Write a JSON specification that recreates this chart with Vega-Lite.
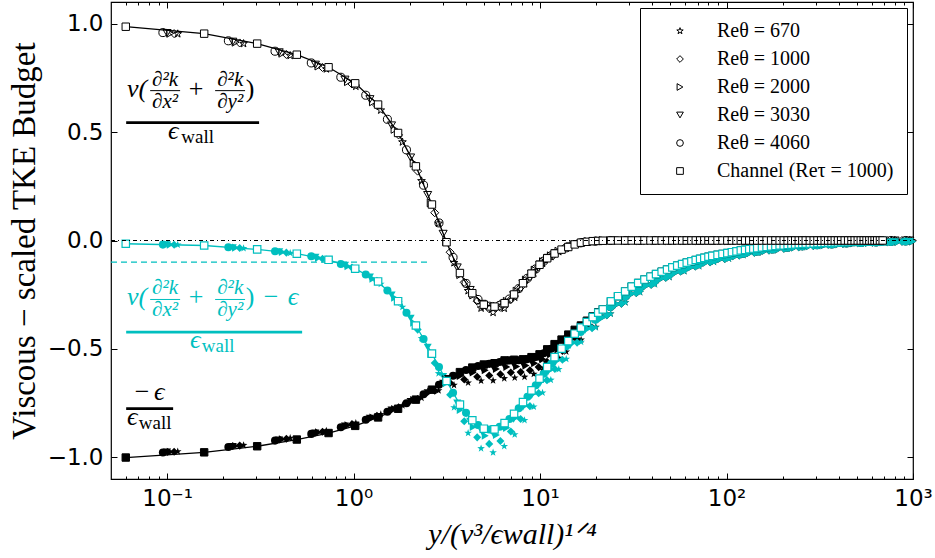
{
"$schema": "https://vega.github.io/schema/vega-lite/v6.json",
"width": 802, "height": 477,
"autosize": {"type": "none"},
"padding": {"left": 111, "top": 2, "right": 22, "bottom": 79},
"background": "white",
"config": {
  "view": {"stroke": "black", "strokeWidth": 1.2},
  "axis": {"grid": false, "domain": false, "tickColor": "black", "tickWidth": 1, "labelColor": "black", "titleColor": "black", "labelFont": "DejaVu Sans", "labelFontSize": 23, "titleFont": "Liberation Serif", "titleFontWeight": "normal"}
},
"datasets": {
"ch": [
{"x":0.06,"v":0.986,"d":-0.015,"e":-1.001},{"x":0.158,"v":0.954,"d":-0.023,"e":-0.977},{"x":0.304,"v":0.908,"d":-0.041,"e":-0.949},{"x":0.496,"v":0.857,"d":-0.061,"e":-0.918},{"x":0.734,"v":0.799,"d":-0.089,"e":-0.888},{"x":1.02,"v":0.725,"d":-0.13,"e":-0.855},{"x":1.353,"v":0.627,"d":-0.189,"e":-0.816},{"x":1.732,"v":0.496,"d":-0.28,"e":-0.776},{"x":2.158,"v":0.342,"d":-0.392,"e":-0.734},{"x":2.631,"v":0.166,"d":-0.522,"e":-0.688},{"x":3.151,"v":-0.008,"d":-0.648,"e":-0.64},{"x":3.717,"v":-0.15,"d":-0.757,"e":-0.607},{"x":4.331,"v":-0.243,"d":-0.829,"e":-0.586},{"x":4.991,"v":-0.296,"d":-0.868,"e":-0.572},{"x":5.698,"v":-0.305,"d":-0.871,"e":-0.566},{"x":6.452,"v":-0.289,"d":-0.842,"e":-0.553},{"x":7.252,"v":-0.249,"d":-0.799,"e":-0.55},{"x":8.1,"v":-0.197,"d":-0.745,"e":-0.548},{"x":8.994,"v":-0.153,"d":-0.691,"e":-0.538},{"x":9.935,"v":-0.112,"d":-0.637,"e":-0.525},{"x":10.92,"v":-0.082,"d":-0.584,"e":-0.502},{"x":11.96,"v":-0.06,"d":-0.538,"e":-0.478},{"x":13.04,"v":-0.042,"d":-0.499,"e":-0.457},{"x":14.17,"v":-0.03,"d":-0.464,"e":-0.434},{"x":15.34,"v":-0.018,"d":-0.43,"e":-0.412},{"x":16.56,"v":-0.01,"d":-0.402,"e":-0.392},{"x":17.83,"v":-0.006,"d":-0.376,"e":-0.37},{"x":19.15,"v":-0.003,"d":-0.353,"e":-0.35},{"x":20.51,"v":-0.002,"d":-0.333,"e":-0.331},{"x":21.7,"v":-0.001,"d":-0.318,"e":-0.317},
{"x":24.0,"v":0,"d":-0.281,"e":-0.281},{"x":26.2,"v":0,"d":-0.257,"e":-0.257},{"x":28.6,"v":0,"d":-0.235,"e":-0.235},{"x":31.0,"v":0,"d":-0.213,"e":-0.213},{"x":33.6,"v":0,"d":-0.196,"e":-0.196},{"x":36.3,"v":0,"d":-0.18,"e":-0.18},{"x":39.1,"v":0,"d":-0.167,"e":-0.167},{"x":41.9,"v":0,"d":-0.155,"e":-0.155},{"x":44.9,"v":0,"d":-0.144,"e":-0.144},{"x":48.0,"v":0,"d":-0.134,"e":-0.134},{"x":51.2,"v":0,"d":-0.124,"e":-0.124},{"x":54.4,"v":0,"d":-0.116,"e":-0.116},{"x":57.8,"v":0,"d":-0.109,"e":-0.109},{"x":61.2,"v":0,"d":-0.102,"e":-0.102},{"x":64.8,"v":0,"d":-0.096,"e":-0.096},{"x":68.4,"v":0,"d":-0.09,"e":-0.09},{"x":72.2,"v":0,"d":-0.085,"e":-0.085},{"x":76.0,"v":0,"d":-0.08,"e":-0.08},{"x":80.0,"v":0,"d":-0.075,"e":-0.075},{"x":83.9,"v":0,"d":-0.071,"e":-0.071},{"x":89.5,"v":0,"d":-0.066,"e":-0.066},{"x":95.1,"v":0,"d":-0.062,"e":-0.062},{"x":101,"v":0,"d":-0.058,"e":-0.058},{"x":106.9,"v":0,"d":-0.054,"e":-0.054},{"x":113.1,"v":0,"d":-0.05,"e":-0.05},{"x":119.3,"v":0,"d":-0.046,"e":-0.046},{"x":125.8,"v":0,"d":-0.043,"e":-0.043},{"x":132.4,"v":0,"d":-0.04,"e":-0.04},{"x":139.2,"v":0,"d":-0.037,"e":-0.037},{"x":146.1,"v":0,"d":-0.035,"e":-0.035},{"x":155,"v":0,"d":-0.032,"e":-0.032},{"x":164,"v":0,"d":-0.03,"e":-0.03},{"x":173.4,"v":0,"d":-0.027,"e":-0.027},{"x":182.9,"v":0,"d":-0.025,"e":-0.025},{"x":192.7,"v":0,"d":-0.023,"e":-0.023},{"x":202.6,"v":0,"d":-0.022,"e":-0.022},{"x":212.7,"v":0,"d":-0.02,"e":-0.02},{"x":222.9,"v":0,"d":-0.019,"e":-0.019},{"x":233.5,"v":0,"d":-0.018,"e":-0.018},{"x":244.1,"v":0,"d":-0.017,"e":-0.017},{"x":255,"v":0,"d":-0.016,"e":-0.016},{"x":266,"v":0,"d":-0.015,"e":-0.015},{"x":279.7,"v":0,"d":-0.014,"e":-0.014},{"x":293.4,"v":0,"d":-0.013,"e":-0.013},{"x":307.5,"v":0,"d":-0.012,"e":-0.012},{"x":321.6,"v":0,"d":-0.012,"e":-0.012},{"x":336.1,"v":0,"d":-0.011,"e":-0.011},{"x":350.7,"v":0,"d":-0.01,"e":-0.01},{"x":365.6,"v":0,"d":-0.01,"e":-0.01},{"x":380.6,"v":0,"d":-0.009,"e":-0.009},{"x":396.1,"v":0,"d":-0.009,"e":-0.009},{"x":411.7,"v":0,"d":-0.008,"e":-0.008},{"x":430.3,"v":0,"d":-0.008,"e":-0.008},{"x":448.9,"v":0,"d":-0.007,"e":-0.007},{"x":467.7,"v":0,"d":-0.007,"e":-0.007},{"x":486.6,"v":0,"d":-0.006,"e":-0.006},{"x":505.7,"v":0,"d":-0.006,"e":-0.006},{"x":524.8,"v":0,"d":-0.005,"e":-0.005},{"x":544.3,"v":0,"d":-0.005,"e":-0.005},{"x":563.7,"v":0,"d":-0.005,"e":-0.005},{"x":583.3,"v":0,"d":-0.004,"e":-0.004},{"x":602.8,"v":0,"d":-0.004,"e":-0.004},{"x":622.6,"v":0,"d":-0.004,"e":-0.004},{"x":642.4,"v":0,"d":-0.004,"e":-0.004},{"x":665,"v":0,"d":-0.003,"e":-0.003},{"x":687.7,"v":0,"d":-0.003,"e":-0.003}
],
"bl": [
{"s":"670","x":0.114,"v":0.953,"d":-0.02,"e":-0.973},{"s":"670","x":0.257,"v":0.908,"d":-0.036,"e":-0.944},{"s":"670","x":0.457,"v":0.853,"d":-0.058,"e":-0.911},{"s":"670","x":0.714,"v":0.791,"d":-0.087,"e":-0.878},{"s":"670","x":1.028,"v":0.711,"d":-0.131,"e":-0.842},{"s":"670","x":1.399,"v":0.601,"d":-0.201,"e":-0.802},{"s":"670","x":1.828,"v":0.454,"d":-0.307,"e":-0.761},{"s":"670","x":2.313,"v":0.275,"d":-0.451,"e":-0.726},{"s":"670","x":2.856,"v":0.079,"d":-0.613,"e":-0.692},{"s":"670","x":3.456,"v":-0.103,"d":-0.77,"e":-0.667},{"s":"670","x":4.113,"v":-0.232,"d":-0.888,"e":-0.656},{"s":"670","x":4.827,"v":-0.312,"d":-0.959,"e":-0.647},{"s":"670","x":5.598,"v":-0.332,"d":-0.978,"e":-0.646},{"s":"670","x":6.426,"v":-0.313,"d":-0.949,"e":-0.636},{"s":"670","x":7.312,"v":-0.262,"d":-0.895,"e":-0.633},{"s":"670","x":8.254,"v":-0.2,"d":-0.829,"e":-0.629},{"s":"670","x":9.254,"v":-0.151,"d":-0.767,"e":-0.616},{"s":"670","x":10.31,"v":-0.106,"d":-0.702,"e":-0.596},{"s":"670","x":11.42,"v":-0.075,"d":-0.643,"e":-0.568},{"s":"670","x":12.6,"v":-0.052,"d":-0.594,"e":-0.542},{"s":"670","x":13.82,"v":-0.034,"d":-0.547,"e":-0.513},{"s":"670","x":16.6,"v":-0.01,"d":-0.468,"e":-0.458},{"s":"670","x":19.9,"v":-0.002,"d":-0.401,"e":-0.399},{"s":"670","x":23.9,"v":0,"d":-0.338,"e":-0.338},{"s":"670","x":28.7,"v":0,"d":-0.286,"e":-0.286},{"s":"670","x":34.4,"v":0,"d":-0.239,"e":-0.239},{"s":"670","x":41.3,"v":0,"d":-0.202,"e":-0.202},{"s":"670","x":49.5,"v":0,"d":-0.169,"e":-0.169},{"s":"670","x":59.4,"v":0,"d":-0.142,"e":-0.142},{"s":"670","x":71.3,"v":0,"d":-0.119,"e":-0.119},{"s":"670","x":85.6,"v":0,"d":-0.099,"e":-0.099},{"s":"670","x":103,"v":0,"d":-0.084,"e":-0.084},{"s":"670","x":123,"v":0,"d":-0.068,"e":-0.068},{"s":"670","x":148,"v":0,"d":-0.057,"e":-0.057},{"s":"670","x":178,"v":0,"d":-0.046,"e":-0.046},{"s":"670","x":213,"v":0,"d":-0.037,"e":-0.037},{"s":"670","x":256,"v":0,"d":-0.031,"e":-0.031},{"s":"670","x":307,"v":0,"d":-0.025,"e":-0.025},{"s":"670","x":368,"v":0,"d":-0.021,"e":-0.021},{"s":"670","x":442,"v":0,"d":-0.016,"e":-0.016},{"s":"670","x":530,"v":0,"d":-0.013,"e":-0.013},{"s":"670","x":636,"v":0,"d":-0.01,"e":-0.01},{"s":"670","x":764,"v":0,"d":-0.008,"e":-0.008},{"s":"670","x":916,"v":0,"d":-0.006,"e":-0.006},
{"s":"1000","x":0.109,"v":0.954,"d":-0.02,"e":-0.974},{"s":"1000","x":0.245,"v":0.911,"d":-0.035,"e":-0.946},{"s":"1000","x":0.436,"v":0.858,"d":-0.056,"e":-0.914},{"s":"1000","x":0.681,"v":0.798,"d":-0.084,"e":-0.882},{"s":"1000","x":0.98,"v":0.722,"d":-0.125,"e":-0.847},{"s":"1000","x":1.334,"v":0.623,"d":-0.186,"e":-0.809},{"s":"1000","x":1.742,"v":0.487,"d":-0.282,"e":-0.769},{"s":"1000","x":2.205,"v":0.32,"d":-0.411,"e":-0.731},{"s":"1000","x":2.723,"v":0.128,"d":-0.565,"e":-0.693},{"s":"1000","x":3.294,"v":-0.054,"d":-0.711,"e":-0.657},{"s":"1000","x":3.92,"v":-0.193,"d":-0.834,"e":-0.641},{"s":"1000","x":4.601,"v":-0.28,"d":-0.908,"e":-0.628},{"s":"1000","x":5.336,"v":-0.315,"d":-0.938,"e":-0.623},{"s":"1000","x":6.126,"v":-0.308,"d":-0.925,"e":-0.617},{"s":"1000","x":6.97,"v":-0.272,"d":-0.881,"e":-0.609},{"s":"1000","x":7.868,"v":-0.216,"d":-0.823,"e":-0.607},{"s":"1000","x":8.821,"v":-0.166,"d":-0.764,"e":-0.598},{"s":"1000","x":9.828,"v":-0.12,"d":-0.704,"e":-0.584},{"s":"1000","x":10.89,"v":-0.085,"d":-0.644,"e":-0.559},{"s":"1000","x":12.01,"v":-0.06,"d":-0.593,"e":-0.533},{"s":"1000","x":13.18,"v":-0.041,"d":-0.55,"e":-0.509},{"s":"1000","x":15.8,"v":-0.015,"d":-0.471,"e":-0.456},{"s":"1000","x":19.0,"v":-0.003,"d":-0.404,"e":-0.401},{"s":"1000","x":22.8,"v":0,"d":-0.345,"e":-0.345},{"s":"1000","x":27.3,"v":0,"d":-0.291,"e":-0.291},{"s":"1000","x":32.8,"v":0,"d":-0.242,"e":-0.242},{"s":"1000","x":39.4,"v":0,"d":-0.204,"e":-0.204},{"s":"1000","x":47.2,"v":0,"d":-0.172,"e":-0.172},{"s":"1000","x":56.7,"v":0,"d":-0.143,"e":-0.143},{"s":"1000","x":68.0,"v":0,"d":-0.12,"e":-0.12},{"s":"1000","x":81.6,"v":0,"d":-0.1,"e":-0.1},{"s":"1000","x":97.9,"v":0,"d":-0.085,"e":-0.085},{"s":"1000","x":117,"v":0,"d":-0.069,"e":-0.069},{"s":"1000","x":141,"v":0,"d":-0.056,"e":-0.056},{"s":"1000","x":169,"v":0,"d":-0.046,"e":-0.046},{"s":"1000","x":203,"v":0,"d":-0.038,"e":-0.038},{"s":"1000","x":244,"v":0,"d":-0.031,"e":-0.031},{"s":"1000","x":292,"v":0,"d":-0.025,"e":-0.025},{"s":"1000","x":351,"v":0,"d":-0.02,"e":-0.02},{"s":"1000","x":421,"v":0,"d":-0.016,"e":-0.016},{"s":"1000","x":505,"v":0,"d":-0.013,"e":-0.013},{"s":"1000","x":606,"v":0,"d":-0.01,"e":-0.01},{"s":"1000","x":727,"v":0,"d":-0.008,"e":-0.008},{"s":"1000","x":873,"v":0,"d":-0.006,"e":-0.006},
{"s":"2000","x":0.104,"v":0.956,"d":-0.019,"e":-0.975},{"s":"2000","x":0.233,"v":0.915,"d":-0.033,"e":-0.948},{"s":"2000","x":0.415,"v":0.864,"d":-0.053,"e":-0.917},{"s":"2000","x":0.648,"v":0.805,"d":-0.08,"e":-0.885},{"s":"2000","x":0.933,"v":0.733,"d":-0.119,"e":-0.852},{"s":"2000","x":1.27,"v":0.64,"d":-0.176,"e":-0.816},{"s":"2000","x":1.659,"v":0.513,"d":-0.264,"e":-0.777},{"s":"2000","x":2.1,"v":0.357,"d":-0.379,"e":-0.736},{"s":"2000","x":2.592,"v":0.174,"d":-0.523,"e":-0.697},{"s":"2000","x":3.136,"v":-0.005,"d":-0.658,"e":-0.653},{"s":"2000","x":3.733,"v":-0.157,"d":-0.782,"e":-0.625},{"s":"2000","x":4.381,"v":-0.251,"d":-0.86,"e":-0.609},{"s":"2000","x":5.081,"v":-0.302,"d":-0.9,"e":-0.598},{"s":"2000","x":5.832,"v":-0.304,"d":-0.897,"e":-0.593},{"s":"2000","x":6.636,"v":-0.281,"d":-0.864,"e":-0.583},{"s":"2000","x":7.491,"v":-0.234,"d":-0.815,"e":-0.581},{"s":"2000","x":8.398,"v":-0.183,"d":-0.76,"e":-0.577},{"s":"2000","x":9.357,"v":-0.137,"d":-0.703,"e":-0.566},{"s":"2000","x":10.37,"v":-0.098,"d":-0.646,"e":-0.548},{"s":"2000","x":11.43,"v":-0.071,"d":-0.596,"e":-0.525},{"s":"2000","x":12.55,"v":-0.05,"d":-0.551,"e":-0.501},{"s":"2000","x":15.1,"v":-0.02,"d":-0.472,"e":-0.452},{"s":"2000","x":18.1,"v":-0.005,"d":-0.407,"e":-0.402},{"s":"2000","x":21.7,"v":-0.001,"d":-0.355,"e":-0.354},{"s":"2000","x":26.0,"v":0,"d":-0.294,"e":-0.294},{"s":"2000","x":31.2,"v":0,"d":-0.246,"e":-0.246},{"s":"2000","x":37.5,"v":0,"d":-0.207,"e":-0.207},{"s":"2000","x":45.0,"v":0,"d":-0.175,"e":-0.175},{"s":"2000","x":54.0,"v":0,"d":-0.146,"e":-0.146},{"s":"2000","x":64.8,"v":0,"d":-0.123,"e":-0.123},{"s":"2000","x":77.7,"v":0,"d":-0.102,"e":-0.102},{"s":"2000","x":93.3,"v":0,"d":-0.085,"e":-0.085},{"s":"2000","x":112,"v":0,"d":-0.072,"e":-0.072},{"s":"2000","x":134,"v":0,"d":-0.058,"e":-0.058},{"s":"2000","x":161,"v":0,"d":-0.048,"e":-0.048},{"s":"2000","x":193,"v":0,"d":-0.038,"e":-0.038},{"s":"2000","x":232,"v":0,"d":-0.032,"e":-0.032},{"s":"2000","x":278,"v":0,"d":-0.026,"e":-0.026},{"s":"2000","x":334,"v":0,"d":-0.022,"e":-0.022},{"s":"2000","x":401,"v":0,"d":-0.017,"e":-0.017},{"s":"2000","x":481,"v":0,"d":-0.013,"e":-0.013},{"s":"2000","x":577,"v":0,"d":-0.011,"e":-0.011},{"s":"2000","x":693,"v":0,"d":-0.008,"e":-0.008},{"s":"2000","x":831,"v":0,"d":-0.007,"e":-0.007},{"s":"2000","x":998,"v":0,"d":-0.005,"e":-0.005},
{"s":"3030","x":0.0999,"v":0.957,"d":-0.019,"e":-0.976},{"s":"3030","x":0.225,"v":0.917,"d":-0.033,"e":-0.95},{"s":"3030","x":0.399,"v":0.868,"d":-0.052,"e":-0.92},{"s":"3030","x":0.624,"v":0.811,"d":-0.077,"e":-0.888},{"s":"3030","x":0.899,"v":0.742,"d":-0.114,"e":-0.856},{"s":"3030","x":1.223,"v":0.652,"d":-0.168,"e":-0.82},{"s":"3030","x":1.598,"v":0.531,"d":-0.251,"e":-0.782},{"s":"3030","x":2.022,"v":0.383,"d":-0.359,"e":-0.742},{"s":"3030","x":2.496,"v":0.21,"d":-0.492,"e":-0.702},{"s":"3030","x":3.021,"v":0.031,"d":-0.627,"e":-0.658},{"s":"3030","x":3.595,"v":-0.124,"d":-0.749,"e":-0.625},{"s":"3030","x":4.219,"v":-0.228,"d":-0.834,"e":-0.606},{"s":"3030","x":4.893,"v":-0.292,"d":-0.884,"e":-0.592},{"s":"3030","x":5.617,"v":-0.306,"d":-0.892,"e":-0.586},{"s":"3030","x":6.391,"v":-0.292,"d":-0.867,"e":-0.575},{"s":"3030","x":7.215,"v":-0.252,"d":-0.824,"e":-0.572},{"s":"3030","x":8.088,"v":-0.198,"d":-0.769,"e":-0.571},{"s":"3030","x":9.012,"v":-0.153,"d":-0.715,"e":-0.562},{"s":"3030","x":9.986,"v":-0.111,"d":-0.66,"e":-0.549},{"s":"3030","x":11.01,"v":-0.08,"d":-0.606,"e":-0.526},{"s":"3030","x":12.08,"v":-0.058,"d":-0.561,"e":-0.503},{"s":"3030","x":14.5,"v":-0.027,"d":-0.484,"e":-0.457},{"s":"3030","x":17.4,"v":-0.007,"d":-0.415,"e":-0.408},{"s":"3030","x":20.9,"v":-0.002,"d":-0.36,"e":-0.358},{"s":"3030","x":25.1,"v":0,"d":-0.301,"e":-0.301},{"s":"3030","x":30.1,"v":0,"d":-0.253,"e":-0.253},{"s":"3030","x":36.1,"v":0,"d":-0.212,"e":-0.212},{"s":"3030","x":43.3,"v":0,"d":-0.18,"e":-0.18},{"s":"3030","x":52.0,"v":0,"d":-0.15,"e":-0.15},{"s":"3030","x":62.4,"v":0,"d":-0.125,"e":-0.125},{"s":"3030","x":74.9,"v":0,"d":-0.104,"e":-0.104},{"s":"3030","x":89.9,"v":0,"d":-0.087,"e":-0.087},{"s":"3030","x":108,"v":0,"d":-0.072,"e":-0.072},{"s":"3030","x":129,"v":0,"d":-0.06,"e":-0.06},{"s":"3030","x":155,"v":0,"d":-0.048,"e":-0.048},{"s":"3030","x":186,"v":0,"d":-0.04,"e":-0.04},{"s":"3030","x":224,"v":0,"d":-0.032,"e":-0.032},{"s":"3030","x":268,"v":0,"d":-0.026,"e":-0.026},{"s":"3030","x":322,"v":0,"d":-0.022,"e":-0.022},{"s":"3030","x":387,"v":0,"d":-0.017,"e":-0.017},{"s":"3030","x":464,"v":0,"d":-0.014,"e":-0.014},{"s":"3030","x":557,"v":0,"d":-0.01,"e":-0.01},{"s":"3030","x":668,"v":0,"d":-0.007,"e":-0.007},{"s":"3030","x":802,"v":0,"d":-0.006,"e":-0.006},{"s":"3030","x":962,"v":0,"d":-0.004,"e":-0.004},
{"s":"4060","x":0.0949,"v":0.959,"d":-0.019,"e":-0.978},{"s":"4060","x":0.213,"v":0.921,"d":-0.031,"e":-0.952},{"s":"4060","x":0.379,"v":0.873,"d":-0.05,"e":-0.923},{"s":"4060","x":0.593,"v":0.819,"d":-0.073,"e":-0.892},{"s":"4060","x":0.854,"v":0.753,"d":-0.108,"e":-0.861},{"s":"4060","x":1.162,"v":0.67,"d":-0.157,"e":-0.827},{"s":"4060","x":1.518,"v":0.559,"d":-0.231,"e":-0.79},{"s":"4060","x":1.921,"v":0.418,"d":-0.333,"e":-0.751},{"s":"4060","x":2.372,"v":0.255,"d":-0.454,"e":-0.709},{"s":"4060","x":2.87,"v":0.081,"d":-0.584,"e":-0.665},{"s":"4060","x":3.415,"v":-0.078,"d":-0.702,"e":-0.624},{"s":"4060","x":4.008,"v":-0.198,"d":-0.795,"e":-0.597},{"s":"4060","x":4.648,"v":-0.272,"d":-0.851,"e":-0.579},{"s":"4060","x":5.336,"v":-0.303,"d":-0.872,"e":-0.569},{"s":"4060","x":6.071,"v":-0.299,"d":-0.859,"e":-0.56},{"s":"4060","x":6.854,"v":-0.27,"d":-0.823,"e":-0.553},{"s":"4060","x":7.684,"v":-0.222,"d":-0.774,"e":-0.552},{"s":"4060","x":8.561,"v":-0.174,"d":-0.721,"e":-0.547},{"s":"4060","x":9.486,"v":-0.131,"d":-0.668,"e":-0.537},{"s":"4060","x":10.46,"v":-0.095,"d":-0.615,"e":-0.52},{"s":"4060","x":11.48,"v":-0.07,"d":-0.569,"e":-0.499},{"s":"4060","x":13.8,"v":-0.034,"d":-0.488,"e":-0.454},{"s":"4060","x":16.5,"v":-0.011,"d":-0.422,"e":-0.411},{"s":"4060","x":19.8,"v":-0.003,"d":-0.366,"e":-0.363},{"s":"4060","x":23.8,"v":0,"d":-0.307,"e":-0.307},{"s":"4060","x":28.6,"v":0,"d":-0.26,"e":-0.26},{"s":"4060","x":34.3,"v":0,"d":-0.219,"e":-0.219},{"s":"4060","x":41.1,"v":0,"d":-0.186,"e":-0.186},{"s":"4060","x":49.4,"v":0,"d":-0.156,"e":-0.156},{"s":"4060","x":59.2,"v":0,"d":-0.13,"e":-0.13},{"s":"4060","x":71.1,"v":0,"d":-0.108,"e":-0.108},{"s":"4060","x":85.3,"v":0,"d":-0.09,"e":-0.09},{"s":"4060","x":102,"v":0,"d":-0.076,"e":-0.076},{"s":"4060","x":123,"v":0,"d":-0.061,"e":-0.061},{"s":"4060","x":147,"v":0,"d":-0.051,"e":-0.051},{"s":"4060","x":177,"v":0,"d":-0.041,"e":-0.041},{"s":"4060","x":212,"v":0,"d":-0.033,"e":-0.033},{"s":"4060","x":255,"v":0,"d":-0.027,"e":-0.027},{"s":"4060","x":306,"v":0,"d":-0.022,"e":-0.022},{"s":"4060","x":367,"v":0,"d":-0.018,"e":-0.018},{"s":"4060","x":440,"v":0,"d":-0.014,"e":-0.014},{"s":"4060","x":528,"v":0,"d":-0.011,"e":-0.011},{"s":"4060","x":634,"v":0,"d":-0.009,"e":-0.009},{"s":"4060","x":761,"v":0,"d":-0.007,"e":-0.007},{"s":"4060","x":913,"v":0,"d":-0.005,"e":-0.005}
],
"ann": [
{"t":"ν(","x":0.069,"y":0.6636,"c":"k","g":"bi"},{"t":"∂²k","x":0.0975,"y":0.7143,"c":"k","g":"si"},{"t":"∂x²","x":0.0975,"y":0.6129,"c":"k","g":"si"},{"t":"+","x":0.143,"y":0.6636,"c":"k","g":"br"},{"t":"∂²k","x":0.218,"y":0.7143,"c":"k","g":"si"},{"t":"∂y²","x":0.218,"y":0.6129,"c":"k","g":"si"},{"t":")","x":0.2786,"y":0.6636,"c":"k","g":"br"},{"t":"ϵ","x":0.1077,"y":0.47,"c":"k","g":"bi"},{"t":"wall","x":0.1457,"y":0.4516,"c":"k","g":"sr"},
{"t":"ν(","x":0.069,"y":-0.2995,"c":"c","g":"bi"},{"t":"∂²k","x":0.0975,"y":-0.2488,"c":"c","g":"si"},{"t":"∂x²","x":0.0975,"y":-0.3502,"c":"c","g":"si"},{"t":"+","x":0.143,"y":-0.2995,"c":"c","g":"br"},{"t":"∂²k","x":0.218,"y":-0.2488,"c":"c","g":"si"},{"t":"∂y²","x":0.218,"y":-0.3502,"c":"c","g":"si"},{"t":")","x":0.2786,"y":-0.2995,"c":"c","g":"br"},{"t":"−","x":0.361,"y":-0.2995,"c":"c","g":"br"},{"t":"ϵ","x":0.4737,"y":-0.2995,"c":"c","g":"bi"},{"t":"ϵ","x":0.1413,"y":-0.4977,"c":"c","g":"bi"},{"t":"wall","x":0.1877,"y":-0.516,"c":"c","g":"sr"},
{"t":"−","x":0.0735,"y":-0.737,"c":"k","g":"br"},{"t":"ϵ","x":0.0906,"y":-0.737,"c":"k","g":"bi"},{"t":"ϵ","x":0.0649,"y":-0.851,"c":"k","g":"bi"},{"t":"wall","x":0.0862,"y":-0.869,"c":"k","g":"sr"}
],
"bars": [
{"x":0.0603,"x2":0.3113,"y":0.5438,"c":"k","g":"main"},{"x":0.0811,"x2":0.1174,"y":0.6912,"c":"k","g":"mini"},{"x":0.1809,"x2":0.2618,"y":0.6912,"c":"k","g":"mini"},
{"x":0.0603,"x2":0.5296,"y":-0.4226,"c":"c","g":"main"},{"x":0.0811,"x2":0.1174,"y":-0.272,"c":"c","g":"mini"},{"x":0.1809,"x2":0.2618,"y":-0.272,"c":"c","g":"mini"},
{"x":0.0603,"x2":0.1077,"y":-0.7756,"c":"k","g":"main"}
]
},
"resolve": {"axis": {"x": "independent", "y": "independent"}},
"layer": [
{
 "data": {"values": [{"x": 0.05, "x2": 2.6, "y": -0.1}]},
 "mark": {"type": "rule", "color": "#00bfbf", "strokeWidth": 1.3, "strokeDash": [6, 4]},
 "encoding": {
  "x": {"field": "x", "type": "quantitative", "scale": {"type": "log", "domain": [0.05, 1000], "nice": false},
   "axis": {"orient": "bottom", "values": [0.06,0.07,0.08,0.09,0.1,0.2,0.3,0.4,0.5,0.6,0.7,0.8,0.9,1,2,3,4,5,6,7,8,9,10,20,30,40,50,60,70,80,90,100,200,300,400,500,600,700,800,900,1000],
    "labelExpr": "datum.value == 0.1 ? '10⁻¹' : datum.value == 1 ? '10⁰' : datum.value == 10 ? '10¹' : datum.value == 100 ? '10²' : datum.value == 1000 ? '10³' : ''",
    "tickSize": {"condition": {"test": "indexof([0.1,1,10,100,1000], datum.value) >= 0", "value": -6}, "value": -3},
    "labelPadding": 14, "labelFlush": false, "labelOverlap": false, "labelBound": false,
    "title": "y/(ν³/ϵwall)¹ᐟ⁴", "titleFontSize": 30, "titleFontStyle": "italic", "titlePadding": 6}},
  "x2": {"field": "x2"},
  "y": {"field": "y", "type": "quantitative", "scale": {"domain": [-1.1, 1.1], "nice": false, "zero": false},
   "axis": {"orient": "left", "values": [-1, -0.5, 0, 0.5, 1], "format": ".1f", "tickSize": -6, "labelPadding": 14,
    "title": "Viscous − scaled TKE Budget", "titleFontSize": 33, "titlePadding": 6}}
 }
},
{
 "data": {"name": "bl"},
 "mark": {"type": "point", "filled": false, "color": "black", "strokeWidth": 1, "size": 65, "opacity": 1},
 "encoding": {
  "x": {"field": "x", "type": "quantitative", "scale": {"type": "log", "domain": [0.05, 1000], "nice": false}, "axis": null},
  "y": {"field": "v", "type": "quantitative", "scale": {"domain": [-1.1, 1.1], "nice": false, "zero": false}, "axis": null},
  "shape": {"field": "s", "type": "nominal",
   "scale": {"domain": ["670","1000","2000","3030","4060","ch"], "range": ["M0,-1L0.235,-0.324L0.951,-0.309L0.38,0.124L0.588,0.809L0,0.4L-0.588,0.809L-0.38,0.124L-0.951,-0.309L-0.235,-0.324Z","diamond","triangle-right","triangle-down","circle","square"]},
   "legend": {"title": null, "orient": "top-right", "offset": 6, "padding": 13, "rowPadding": 8,
    "labelFont": "Liberation Serif", "labelFontSize": 20, "labelColor": "black", "labelLimit": 400, "symbolSize": 45,
    "symbolOffset": 17, "labelOffset": 27, "strokeColor": "black", "fillColor": "white", "cornerRadius": 0,
    "symbolFillColor": "white", "symbolStrokeColor": "black", "symbolStrokeWidth": 1, "symbolOpacity": 1,
    "labelExpr": "datum.label == 'ch' ? 'Channel (Reτ = 1000)' : 'Reθ = ' + datum.label",
    "encode": {"symbols": {"update": {"fill": {"value": "white"}, "stroke": {"value": "black"}, "strokeWidth": {"value": 1}, "opacity": {"value": 1}}}}}}
 }
},
{
 "data": {"name": "bl"},
 "mark": {"type": "point", "filled": true, "color": "black", "size": 65, "opacity": 1},
 "encoding": {
  "x": {"field": "x", "type": "quantitative", "scale": {"type": "log", "domain": [0.05, 1000], "nice": false}, "axis": null},
  "y": {"field": "e", "type": "quantitative", "scale": {"domain": [-1.1, 1.1], "nice": false, "zero": false}, "axis": null},
  "shape": {"field": "s", "type": "nominal"}
 }
},
{
 "data": {"name": "bl"},
 "mark": {"type": "point", "filled": true, "color": "#00bfbf", "size": 65, "opacity": 1},
 "encoding": {
  "x": {"field": "x", "type": "quantitative", "scale": {"type": "log", "domain": [0.05, 1000], "nice": false}, "axis": null},
  "y": {"field": "d", "type": "quantitative", "scale": {"domain": [-1.1, 1.1], "nice": false, "zero": false}, "axis": null},
  "shape": {"field": "s", "type": "nominal"}
 }
},
{
 "data": {"name": "ch"},
 "mark": {"type": "line", "color": "black", "strokeWidth": 1.3},
 "encoding": {
  "x": {"field": "x", "type": "quantitative", "scale": {"type": "log", "domain": [0.05, 1000], "nice": false}, "axis": null},
  "y": {"field": "e", "type": "quantitative", "scale": {"domain": [-1.1, 1.1], "nice": false, "zero": false}, "axis": null}
 }
},
{
 "data": {"name": "ch"},
 "mark": {"type": "point", "filled": true, "fill": "black", "stroke": "black", "strokeWidth": 1, "size": 55, "opacity": 1},
 "encoding": {
  "x": {"field": "x", "type": "quantitative", "scale": {"type": "log", "domain": [0.05, 1000], "nice": false}, "axis": null},
  "y": {"field": "e", "type": "quantitative", "scale": {"domain": [-1.1, 1.1], "nice": false, "zero": false}, "axis": null},
  "shape": {"datum": "ch", "type": "nominal"}
 }
},
{
 "data": {"name": "ch"},
 "mark": {"type": "line", "color": "#00bfbf", "strokeWidth": 1.3},
 "encoding": {
  "x": {"field": "x", "type": "quantitative", "scale": {"type": "log", "domain": [0.05, 1000], "nice": false}, "axis": null},
  "y": {"field": "d", "type": "quantitative", "scale": {"domain": [-1.1, 1.1], "nice": false, "zero": false}, "axis": null}
 }
},
{
 "data": {"name": "ch"},
 "mark": {"type": "point", "filled": true, "fill": "white", "stroke": "#00bfbf", "strokeWidth": 1.2, "size": 55, "opacity": 1},
 "encoding": {
  "x": {"field": "x", "type": "quantitative", "scale": {"type": "log", "domain": [0.05, 1000], "nice": false}, "axis": null},
  "y": {"field": "d", "type": "quantitative", "scale": {"domain": [-1.1, 1.1], "nice": false, "zero": false}, "axis": null},
  "shape": {"datum": "ch", "type": "nominal"}
 }
},
{
 "data": {"name": "ch"},
 "mark": {"type": "line", "color": "black", "strokeWidth": 1.3},
 "encoding": {
  "x": {"field": "x", "type": "quantitative", "scale": {"type": "log", "domain": [0.05, 1000], "nice": false}, "axis": null},
  "y": {"field": "v", "type": "quantitative", "scale": {"domain": [-1.1, 1.1], "nice": false, "zero": false}, "axis": null}
 }
},
{
 "data": {"name": "ch"},
 "mark": {"type": "point", "filled": true, "fill": "white", "stroke": "black", "strokeWidth": 1, "size": 55, "opacity": 1},
 "encoding": {
  "x": {"field": "x", "type": "quantitative", "scale": {"type": "log", "domain": [0.05, 1000], "nice": false}, "axis": null},
  "y": {"field": "v", "type": "quantitative", "scale": {"domain": [-1.1, 1.1], "nice": false, "zero": false}, "axis": null},
  "shape": {"datum": "ch", "type": "nominal"}
 }
},
{
 "data": {"values": [{"x": 0.05, "x2": 1000, "y": 0}]},
 "mark": {"type": "rule", "color": "black", "strokeWidth": 1, "strokeDash": [4, 3, 1, 3]},
 "encoding": {
  "x": {"field": "x", "type": "quantitative", "scale": {"type": "log", "domain": [0.05, 1000], "nice": false},
   "axis": {"orient": "top", "values": [0.06,0.07,0.08,0.09,0.1,0.2,0.3,0.4,0.5,0.6,0.7,0.8,0.9,1,2,3,4,5,6,7,8,9,10,20,30,40,50,60,70,80,90,100,200,300,400,500,600,700,800,900,1000],
    "labels": false, "title": null,
    "tickSize": {"condition": {"test": "indexof([0.1,1,10,100,1000], datum.value) >= 0", "value": -6}, "value": -3}}},
  "x2": {"field": "x2"},
  "y": {"field": "y", "type": "quantitative", "scale": {"domain": [-1.1, 1.1], "nice": false, "zero": false},
   "axis": {"orient": "right", "values": [-1, -0.5, 0, 0.5, 1], "labels": false, "title": null, "tickSize": -6}}
 }
},
{
 "data": {"name": "bars"},
 "transform": [{"filter": "datum.g == 'main'"}],
 "mark": {"type": "rule", "strokeWidth": 2.8},
 "encoding": {
  "x": {"field": "x", "type": "quantitative", "scale": {"type": "log", "domain": [0.05, 1000], "nice": false}, "axis": null},
  "x2": {"field": "x2"},
  "y": {"field": "y", "type": "quantitative", "scale": {"domain": [-1.1, 1.1], "nice": false, "zero": false}, "axis": null},
  "color": {"field": "c", "type": "nominal", "scale": {"domain": ["k", "c"], "range": ["black", "#00bfbf"]}, "legend": null}
 }
},
{
 "data": {"name": "bars"},
 "transform": [{"filter": "datum.g == 'mini'"}],
 "mark": {"type": "rule", "strokeWidth": 1},
 "encoding": {
  "x": {"field": "x", "type": "quantitative", "scale": {"type": "log", "domain": [0.05, 1000], "nice": false}, "axis": null},
  "x2": {"field": "x2"},
  "y": {"field": "y", "type": "quantitative", "scale": {"domain": [-1.1, 1.1], "nice": false, "zero": false}, "axis": null},
  "color": {"field": "c", "type": "nominal", "legend": null}
 }
},
{
 "data": {"name": "ann"},
 "transform": [{"filter": "datum.g == 'bi'"}],
 "mark": {"type": "text", "align": "center", "baseline": "alphabetic", "font": "Liberation Serif", "fontSize": 26, "fontStyle": "italic"},
 "encoding": {
  "x": {"field": "x", "type": "quantitative", "scale": {"type": "log", "domain": [0.05, 1000], "nice": false}, "axis": null},
  "y": {"field": "y", "type": "quantitative", "scale": {"domain": [-1.1, 1.1], "nice": false, "zero": false}, "axis": null},
  "text": {"field": "t"},
  "color": {"field": "c", "type": "nominal", "legend": null}
 }
},
{
 "data": {"name": "ann"},
 "transform": [{"filter": "datum.g == 'br'"}],
 "mark": {"type": "text", "align": "center", "baseline": "alphabetic", "font": "Liberation Serif", "fontSize": 26},
 "encoding": {
  "x": {"field": "x", "type": "quantitative", "scale": {"type": "log", "domain": [0.05, 1000], "nice": false}, "axis": null},
  "y": {"field": "y", "type": "quantitative", "scale": {"domain": [-1.1, 1.1], "nice": false, "zero": false}, "axis": null},
  "text": {"field": "t"},
  "color": {"field": "c", "type": "nominal", "legend": null}
 }
},
{
 "data": {"name": "ann"},
 "transform": [{"filter": "datum.g == 'si'"}],
 "mark": {"type": "text", "align": "center", "baseline": "alphabetic", "font": "Liberation Serif", "fontSize": 21, "fontStyle": "italic"},
 "encoding": {
  "x": {"field": "x", "type": "quantitative", "scale": {"type": "log", "domain": [0.05, 1000], "nice": false}, "axis": null},
  "y": {"field": "y", "type": "quantitative", "scale": {"domain": [-1.1, 1.1], "nice": false, "zero": false}, "axis": null},
  "text": {"field": "t"},
  "color": {"field": "c", "type": "nominal", "legend": null}
 }
},
{
 "data": {"name": "ann"},
 "transform": [{"filter": "datum.g == 'sr'"}],
 "mark": {"type": "text", "align": "center", "baseline": "alphabetic", "font": "Liberation Serif", "fontSize": 19},
 "encoding": {
  "x": {"field": "x", "type": "quantitative", "scale": {"type": "log", "domain": [0.05, 1000], "nice": false}, "axis": null},
  "y": {"field": "y", "type": "quantitative", "scale": {"domain": [-1.1, 1.1], "nice": false, "zero": false}, "axis": null},
  "text": {"field": "t"},
  "color": {"field": "c", "type": "nominal", "legend": null}
 }
}
]
}
